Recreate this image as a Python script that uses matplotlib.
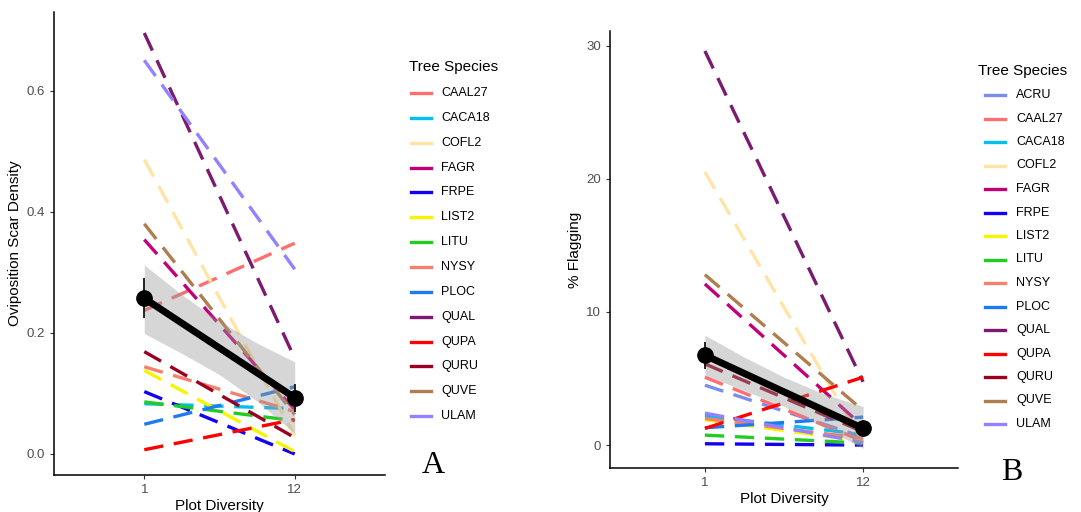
import numpy as np
import matplotlib.pyplot as plt
from matplotlib.lines import Line2D

plt.rcParams['font.family'] = ['Liberation Sans', 'DejaVu Sans']

# plot diversity levels (categorical x)
diversity = ["1", "12"]

# panel A: oviposition scar density by tree species
species_a = ["CAAL27", "CACA18", "COFL2", "FAGR", "FRPE", "LIST2", "LITU",
             "NYSY", "PLOC", "QUAL", "QUPA", "QURU", "QUVE", "ULAM"]
scar_div1 = [0.237, 0.083, 0.486, 0.354, 0.103, 0.138, 0.086,
             0.144, 0.049, 0.695, 0.007, 0.169, 0.380, 0.650]
scar_div12 = [0.348, 0.075, 0.030, 0.073, 0.000, 0.004, 0.055,
              0.070, 0.111, 0.158, 0.057, 0.027, 0.065, 0.305]
scar_mean = [0.257, 0.093]
scar_err_lo = [0.224, 0.070]
scar_err_hi = [0.290, 0.115]
# confidence band of the fit, read at x = 1, 1.25, 1.5, 1.75, 2
band_x = [1.0, 1.25, 1.5, 1.75, 2.0]
scar_band_lo = [0.199, 0.166, 0.131, 0.087, 0.034]
scar_band_hi = [0.312, 0.263, 0.219, 0.183, 0.152]

# panel B: % flagging by tree species
species_b = ["ACRU", "CAAL27", "CACA18", "COFL2", "FAGR", "FRPE", "LIST2", "LITU",
             "NYSY", "PLOC", "QUAL", "QUPA", "QURU", "QUVE", "ULAM"]
flag_div1 = [4.5, 5.1, 2.2, 20.5, 12.1, 0.1, 1.9, 0.75,
             2.0, 1.3, 29.6, 1.25, 6.1, 12.8, 2.4]
flag_div12 = [0.6, 0.3, 0.8, 0.2, 1.4, 0.0, 0.3, 0.15,
              0.5, 2.1, 4.75, 5.1, 1.0, 2.6, 0.2]
flag_mean = [6.75, 1.25]
flag_err_lo = [5.75, 0.8]
flag_err_hi = [7.75, 1.7]
flag_band_lo = [5.25, 4.1, 2.9, 1.35, -0.25]
flag_band_hi = [8.25, 6.6, 5.1, 3.85, 2.9]

colors = {
    "ACRU": "#7b8dea", "CAAL27": "#ff6f6f", "CACA18": "#00bfef",
    "COFL2": "#ffe4a5", "FAGR": "#c0007a", "FRPE": "#1400f0",
    "LIST2": "#f5f500", "LITU": "#22cc22", "NYSY": "#f4806e",
    "PLOC": "#1e7bef", "QUAL": "#7b1a6e", "QUPA": "#ff0000",
    "QURU": "#9b0020", "QUVE": "#b07d4e", "ULAM": "#9580ff",
}

fig = plt.figure(figsize=(10.81, 5.12), dpi=100)
W, H = 1081, 512


def px_axes(x0, y0, x1, y1):
    return fig.add_axes([x0 / W, 1 - y1 / H, (x1 - x0) / W, (y1 - y0) / H])


def draw_panel(ax, species, v1, v12, mean, elo, ehi, blo, bhi, ylim, yticks, ylabel):
    xs = [1, 2]
    for sp, a, b in zip(species, v1, v12):
        ax.plot(xs, [a, b], color=colors[sp], lw=2.4, dashes=(5.8, 3.2),
                solid_capstyle='butt', dash_capstyle='butt')
    ax.fill_between(band_x, blo, bhi, color='#999999', alpha=0.4, lw=0, zorder=3)
    ax.plot(xs, mean, color='black', lw=5, zorder=4, solid_capstyle='butt')
    ax.vlines(xs, elo, ehi, color='black', lw=1.2, zorder=4)
    ax.plot(xs, mean, 'o', color='black', ms=11, zorder=5)
    ax.set_xlim(0.4, 2.6)
    ax.set_ylim(*ylim)
    ax.set_xticks(xs)
    ax.set_xticklabels(diversity)
    ax.set_yticks(yticks)
    for s in ['top', 'right']:
        ax.spines[s].set_visible(False)
    for s in ['left', 'bottom']:
        ax.spines[s].set_linewidth(1.1)
    ax.tick_params(colors='#333333', labelcolor='#4d4d4d', labelsize=9.5,
                   length=3, width=0.8)
    ax.set_xlabel("Plot Diversity", fontsize=11, labelpad=2)
    ax.set_ylabel(ylabel, fontsize=11, labelpad=3)


def draw_legend(species, title_xy, key_x0, key_x1, label_x, y0, step):
    fig.text(title_xy[0] / W, 1 - title_xy[1] / H, "Tree Species",
             fontsize=11, ha='left', va='center')
    for i, sp in enumerate(species):
        y = 1 - (y0 + i * step) / H
        fig.add_artist(Line2D([key_x0 / W, key_x1 / W], [y, y],
                              color=colors[sp], lw=2.4))
        fig.text(label_x / W, y, sp, fontsize=9, ha='left', va='center')


ax_a = px_axes(54, 12, 385, 475)
draw_panel(ax_a, species_a, scar_div1, scar_div12, scar_mean, scar_err_lo,
           scar_err_hi, scar_band_lo, scar_band_hi, (-0.0347, 0.7297),
           [0.0, 0.2, 0.4, 0.6], "Oviposition Scar Density")
ax_a.set_yticklabels(["0.0", "0.2", "0.4", "0.6"])

ax_b = px_axes(610, 31, 958, 468)
draw_panel(ax_b, species_b, flag_div1, flag_div12, flag_mean, flag_err_lo,
           flag_err_hi, flag_band_lo, flag_band_hi, (-1.72, 31.1),
           [0, 10, 20, 30], "% Flagging")

draw_legend(species_a, (409, 67), 411, 431, 441.5, 93, 24.85)
draw_legend(species_b, (978, 71), 985, 1005, 1016, 95, 23.5)

fig.text(433 / W, 1 - 473 / H, "A", fontsize=23, family='Liberation Serif',
         ha='center', va='baseline')
fig.text(1012 / W, 1 - 480 / H, "B", fontsize=23, family='Liberation Serif',
         ha='center', va='baseline')

fig.savefig("out.png", dpi=100)
